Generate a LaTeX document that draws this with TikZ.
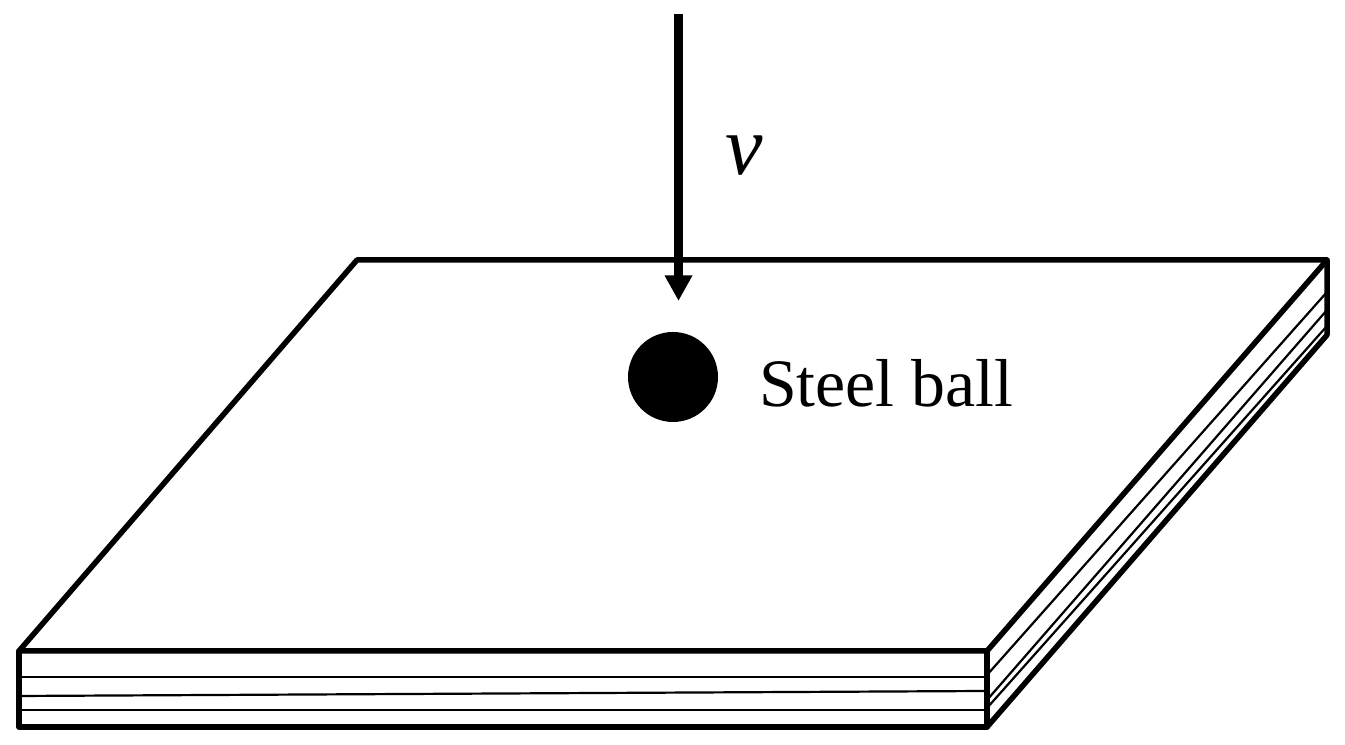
\documentclass[tikz,border=0pt]{standalone}
\usepackage{fontspec}
\setmainfont{Liberation Serif}
\usetikzlibrary{arrows.meta,positioning}
\tikzset{
  edgeline/.style={line width=0.55mm,line cap=round,line join=round},
  layerline/.style={line width=0.22mm},
}
\begin{document}
\begin{tikzpicture}[x=0.1cm,y=-0.1cm,yshift=7.45cm]
  \useasboundingbox (0,0) rectangle (134.5,74.5);
  % plate corners
  \coordinate (backl) at (35.7,26);
  \coordinate (backr) at (132.7,26);
  \coordinate (frontl) at (1.9,65.1);
  \coordinate (frontr) at (98.7,65.1);
  \coordinate (bottoml) at (1.9,72.7);
  \coordinate (bottomr) at (98.7,72.7);
  \coordinate (lowr) at (132.7,33.5);
  % layers, front side
  \coordinate (la) at (1.9,67.7);
  \coordinate (lb) at (1.9,69.6);
  \coordinate (lc) at (1.9,71);
  \coordinate (ra) at (98.7,67.7);
  \coordinate (rb) at (98.7,69.1);
  \coordinate (rc) at (98.7,71);
  % layers, right side
  \coordinate (ta) at (98.7,67.5);
  \coordinate (tb) at (98.7,70);
  \coordinate (tc) at (98.7,70.8);
  \coordinate (sa) at (132.7,29.2);
  \coordinate (sb) at (132.7,31);
  \coordinate (sc) at (132.7,32.6);
  \draw[layerline] (la) -- (ra);
  \draw[layerline] (lb) -- (rb);
  \draw[layerline] (lc) -- (rc);
  \draw[layerline] (ta) -- (sa);
  \draw[layerline] (tb) -- (sb);
  \draw[layerline] (tc) -- (sc);
  \draw[edgeline] (frontl) -- (backl) -- (backr) -- (frontr) -- cycle;
  \draw[edgeline] (frontl) -- (bottoml) -- (bottomr) -- (frontr);
  \draw[edgeline] (backr) -- (lowr) -- (bottomr);

  % ball and velocity
  \node [circle,fill=black,minimum size=0.9cm,inner sep=0pt] (ball) at (67.3,37.7) {};
  \node [right=0.28cm of ball,yshift=-0.06cm,font=\fontsize{19.3}{19.3}\selectfont] (balllabel) {Steel ball};
  \coordinate (start) at (67.85,1.4);
  \coordinate (tip) at (67.85,30.1);
  \draw[-{Triangle[width=0.26cm,length=0.255cm]},line width=0.9mm] (start) -- (tip);
  \node [font=\fontsize{24}{24}\selectfont\itshape] (vel) at (74.4,15.6) {v};
\end{tikzpicture}
\end{document}
